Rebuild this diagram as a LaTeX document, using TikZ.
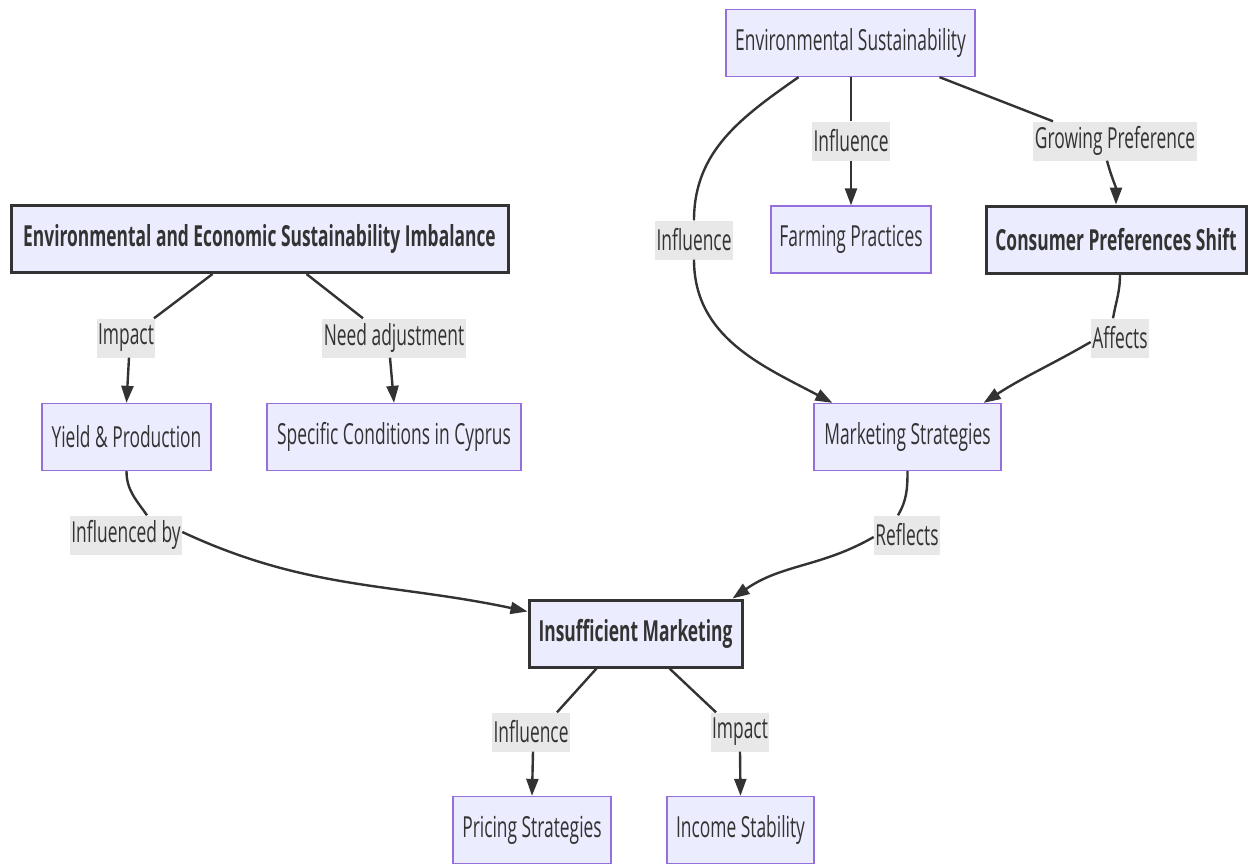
\documentclass[tikz,border=0pt]{standalone}
\usepackage{fontspec}
\setmainfont{Open Sans}[FakeStretch=0.6]
\usetikzlibrary{arrows.meta}
\definecolor{boxfill}{HTML}{ECECFF}
\definecolor{boxline}{HTML}{9370DB}
\definecolor{ink}{HTML}{333333}
\definecolor{lblfill}{HTML}{E8E8E8}
\begin{document}
\begin{tikzpicture}[x=1pt,y=1pt,
  txt/.style={font=\fontsize{29}{32}\selectfont},
  box/.style={txt, draw=boxline, line width=1.3pt, fill=boxfill, text=ink,
    minimum height=67pt, inner sep=0pt},
  keybox/.style={box, draw=ink, line width=3pt, font=\fontsize{29}{32}\selectfont\bfseries},
  lbl/.style={txt, fill=lblfill, text=ink, inner xsep=1.5pt, inner ysep=0pt, minimum height=39pt},
  link/.style={draw=ink, line width=2.4pt},
  edge/.style={link, -{Triangle[length=17pt,width=12pt]}}]
\useasboundingbox (0,0) rectangle (1250,-863);

% nodes
\node[box, minimum width=249pt] (es) at (850.5,-43) {Environmental Sustainability};
\node[keybox, minimum width=497pt] (eesi) at (259.5,-239) {Environmental and Economic Sustainability Imbalance};
\node[box, minimum width=160pt] (fp) at (851,-239.5) {Farming Practices};
\node[keybox, minimum width=260pt] (cps) at (1116,-239.5) {Consumer Preferences Shift};
\node[box, minimum width=169pt] (yp) at (126.5,-437) {Yield \& Production};
\node[box, minimum width=254pt] (sc) at (394,-437) {Specific Conditions in Cyprus};
\node[box, minimum width=187pt] (ms) at (907.5,-437) {Marketing Strategies};
\node[keybox, minimum width=213pt] (im) at (635.5,-633.5) {Insufficient Marketing};
\node[box, minimum width=158pt] (ps) at (532,-830) {Pricing Strategies};
\node[box, minimum width=147pt] (is) at (740.5,-830) {Income Stability};

% edge labels
\node[lbl] (l1) at (851,-141) {Influence};
\node[lbl] (l2) at (1115,-141) {Growing Preference};
\node[lbl] (l3) at (694,-240) {Influence};
\node[lbl] (l4) at (1120,-338) {Affects};
\node[lbl] (l5) at (126,-338) {Impact};
\node[lbl] (l6) at (394,-338) {Need adjustment};
\node[lbl] (l7) at (126,-535) {Influenced by};
\node[lbl] (l8) at (907,-535) {Reflects};
\node[lbl] (l9) at (531,-732) {Influence};
\node[lbl] (l10) at (740,-732) {Impact};

% connectors
\draw[link] (es.south -| l1) -- (l1.north);
\draw[edge] (l1.south) -- (fp.north);

\draw[link] ([xshift=89pt]es.south) -- ([xshift=-62pt]l2.north);
\draw[edge] ([xshift=-8pt]l2.south) to[out=-75,in=90] (cps.north);

\draw[link] ([xshift=-52pt]es.south) to[out=-145,in=90] (l3.north);
\draw[edge] (l3.south) to[out=-90,in=152] ([xshift=19pt]ms.north west);

\draw[link] ([xshift=4pt]cps.south) to[out=-90,in=80] ([xshift=-7pt]l4.north);
\draw[edge] ([yshift=-4pt]l4.west) to[out=-150,in=33] ([xshift=-18pt]ms.north east);

\draw[link] ([xshift=-47pt]eesi.south) -- ([xshift=28pt]l5.north);
\draw[edge] ([xshift=3pt]l5.south) -- (yp.north);

\draw[link] ([xshift=47pt]eesi.south) -- ([xshift=-31pt]l6.north);
\draw[edge] ([xshift=-4pt]l6.south) -- (sc.north);

\draw[link] (yp.south) to[out=-90,in=125] ([xshift=21pt]l7.north);
\draw[edge] ([yshift=3pt]l7.east) to[out=-25,in=168] ([yshift=22pt]im.west);

\draw[link] (ms.south) to[out=-90,in=60] ([xshift=-9pt]l8.north);
\draw[edge] ([yshift=-2pt]l8.west) to[out=-150,in=35] ([xshift=97pt]im.north);

\draw[link] ([xshift=-39pt]im.south) -- ([xshift=26pt]l9.north);
\draw[edge] ([xshift=2pt]l9.south) -- (ps.north);

\draw[link] ([xshift=34pt]im.south) -- ([xshift=-24pt]l10.north);
\draw[edge] (l10.south) -- (is.north);
\end{tikzpicture}
\end{document}
